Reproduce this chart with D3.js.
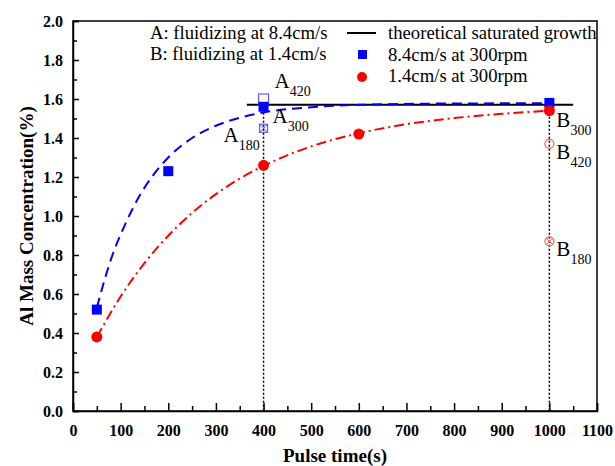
<!DOCTYPE html>
<html>
<head>
<meta charset="utf-8">
<script src="https://cdn.jsdelivr.net/npm/d3@7"></script>
<style>
  body { margin: 0; background: #fff; }
  svg text { font-family: "Liberation Serif", "Times New Roman", serif; }
</style>
</head>
<body>
<svg id="chart"></svg>
<script>
// Size of the picture
const width = 615;
const height = 466;
const margin = { top: 21, right: 18, bottom: 55, left: 73 };

// Measured points
const fastTime = [50, 200, 400, 1000];
const fastConc = [0.52, 1.23, 1.56, 1.58];
const slowTime = [50, 400, 600, 1000];
const slowConc = [0.38, 1.26, 1.42, 1.54];

// Fitted curves
const fastFitTime = [50, 80, 110, 140, 170, 200, 250, 300, 350, 400, 500, 600, 800, 1000];
const fastFitConc = [0.53, 0.78, 0.96, 1.105, 1.215, 1.30, 1.40, 1.463, 1.504, 1.531, 1.558, 1.57, 1.577, 1.578];
const slowFitTime = [50, 100, 150, 200, 250, 300, 350, 400, 500, 600, 700, 800, 900, 1000];
const slowFitConc = [0.38, 0.587, 0.758, 0.899, 1.016, 1.112, 1.192, 1.257, 1.357, 1.424, 1.471, 1.502, 1.524, 1.54];

// Extra samples at 400 s (A) and 1000 s (B)
const extraTime = [400, 400, 1000, 1000];
const extraConc = [1.60, 1.45, 1.37, 0.87];
const extraKind = ['openSquare', 'crossSquare', 'openCircle', 'crossCircle'];

// Theoretical saturated level
const satLevel = 1.57;
const satRange = [365, 1050];
const markTimes = [400, 1000];

// Annotations
const annotTime = [400, 400, 400, 1000, 1000, 1000];
const annotConc = [1.60, 1.56, 1.45, 1.54, 1.37, 0.87];
const annotMain = ['A', 'A', 'A', 'B', 'B', 'B'];
const annotSub = ['420', '300', '180', '300', '420', '180'];

const xTicks = d3.range(0, 1101, 100);
const yTicks = d3.range(0, 2.01, 0.2);

const svg = d3.select('#chart')
  .attr('width', width)
  .attr('height', height);

const x = d3.scaleLinear().domain([0, 1100]).range([margin.left, width - margin.right]);
const y = d3.scaleLinear().domain([0, 2]).range([height - margin.bottom, margin.top]);

// frame
svg.append('rect')
  .attr('x', x(0)).attr('y', y(2))
  .attr('width', x(1100) - x(0)).attr('height', y(0) - y(2))
  .attr('fill', 'none').attr('stroke', '#000').attr('stroke-width', 1.5);

// x axis, ticks pointing inwards
svg.append('g')
  .attr('transform', `translate(0,${y(0)})`)
  .call(d3.axisBottom(x).tickValues(xTicks).tickSize(-8).tickPadding(14).tickFormat(d3.format('d')));
svg.append('g')
  .attr('transform', `translate(0,${y(0)})`)
  .call(d3.axisBottom(x).tickValues(d3.range(50, 1100, 100)).tickSize(-5).tickFormat(''))
  .call(g => g.select('.domain').remove());

svg.append('g')
  .attr('transform', `translate(${x(0)},0)`)
  .call(d3.axisLeft(y).tickValues(yTicks).tickSize(-6).tickPadding(10).tickFormat(d3.format('.1f')));
svg.append('g')
  .attr('transform', `translate(${x(0)},0)`)
  .call(d3.axisLeft(y).tickValues(d3.range(0.1, 2, 0.2)).tickSize(-4).tickFormat(''))
  .call(g => g.select('.domain').remove());

svg.selectAll('.domain').attr('stroke-width', 1.5);
svg.selectAll('.tick line').attr('stroke-width', 1.5);
svg.selectAll('.tick text')
  .style('font-family', '"Liberation Serif", serif')
  .style('font-weight', 'bold')
  .style('font-size', '16px')
  .attr('fill', '#000');

// axis titles
svg.append('text')
  .attr('x', (x(0) + x(1100)) / 2).attr('y', 462)
  .attr('text-anchor', 'middle')
  .attr('font-weight', 'bold').attr('font-size', 19)
  .text('Pulse time(s)');
svg.append('text')
  .attr('transform', `translate(33,${(y(0) + y(2)) / 2}) rotate(-90)`)
  .attr('text-anchor', 'middle')
  .attr('font-weight', 'bold').attr('font-size', 19)
  .text('Al Mass Concentration(%)');

// vertical dotted guides
svg.selectAll('.guide')
  .data(markTimes)
  .enter()
  .append('line')
  .attr('x1', d => x(d)).attr('x2', d => x(d))
  .attr('y1', y(satLevel)).attr('y2', y(0))
  .attr('stroke', '#000').attr('stroke-width', 1.5)
  .attr('stroke-dasharray', '2,2');

// saturated growth line
svg.append('line')
  .attr('x1', x(satRange[0])).attr('x2', x(satRange[1]))
  .attr('y1', y(satLevel)).attr('y2', y(satLevel))
  .attr('stroke', '#000').attr('stroke-width', 2);

// fitted curves
const line = d3.line().x(d => x(d[0])).y(d => y(d[1])).curve(d3.curveMonotoneX);
svg.append('path')
  .attr('d', line(d3.zip(fastFitTime, fastFitConc)))
  .attr('fill', 'none').attr('stroke', '#0000ff').attr('stroke-width', 2)
  .attr('stroke-dasharray', '10,6');
svg.append('path')
  .attr('d', line(d3.zip(slowFitTime, slowFitConc)))
  .attr('fill', 'none').attr('stroke', '#ff0000').attr('stroke-width', 2)
  .attr('stroke-dasharray', '10,4,2,4');

// extra open / crossed markers
const extras = d3.zip(extraTime, extraConc, extraKind);
extras.forEach(([t, c, k]) => {
  const cx = x(t), cy = y(c);
  const g = svg.append('g');
  if (k === 'openSquare') {
    g.append('rect').attr('x', cx - 5).attr('y', cy - 5).attr('width', 10).attr('height', 10)
      .attr('fill', 'none').attr('stroke', '#5a5aff').attr('stroke-width', 1.2);
  } else if (k === 'crossSquare') {
    g.append('rect').attr('x', cx - 4).attr('y', cy - 4).attr('width', 8).attr('height', 8)
      .attr('fill', 'none').attr('stroke', '#5a5aff').attr('stroke-width', 1.2);
    g.append('path').attr('d', `M${cx - 4},${cy - 4}L${cx + 4},${cy + 4}M${cx + 4},${cy - 4}L${cx - 4},${cy + 4}`)
      .attr('stroke', '#5a5aff').attr('stroke-width', 1);
  } else if (k === 'openCircle') {
    g.append('circle').attr('cx', cx).attr('cy', cy).attr('r', 4.5)
      .attr('fill', 'none').attr('stroke', '#ff5a5a').attr('stroke-width', 1.2);
  } else {
    g.append('circle').attr('cx', cx).attr('cy', cy).attr('r', 4.5)
      .attr('fill', 'none').attr('stroke', '#ff5a5a').attr('stroke-width', 1.2);
    g.append('path').attr('d', `M${cx - 3.2},${cy - 3.2}L${cx + 3.2},${cy + 3.2}M${cx + 3.2},${cy - 3.2}L${cx - 3.2},${cy + 3.2}`)
      .attr('stroke', '#ff5a5a').attr('stroke-width', 1);
  }
});

// measured points
svg.selectAll('.fast')
  .data(d3.zip(fastTime, fastConc))
  .enter()
  .append('rect')
  .attr('x', d => x(d[0]) - 5).attr('y', d => y(d[1]) - 5)
  .attr('width', 10).attr('height', 10)
  .attr('fill', '#0000ff');
svg.selectAll('.slow')
  .data(d3.zip(slowTime, slowConc))
  .enter()
  .append('circle')
  .attr('cx', d => x(d[0])).attr('cy', d => y(d[1]))
  .attr('r', 5.5)
  .attr('fill', '#ff0000');

// A / B labels with subscripts
const labelOffset = [[11, -11], [9, 16], [-40, 14], [7, 16], [7, 15], [7, 15]];
d3.range(annotMain.length).forEach(i => {
  const t = svg.append('text')
    .attr('x', x(annotTime[i]) + labelOffset[i][0])
    .attr('y', y(annotConc[i]) + labelOffset[i][1])
    .attr('font-size', 21);
  t.append('tspan').text(annotMain[i]);
  t.append('tspan').attr('dy', 8).attr('font-size', 14).text(annotSub[i]);
});

// legend
const legendLeft = ['A: fluidizing at 8.4cm/s', 'B: fluidizing at 1.4cm/s'];
svg.selectAll('.legL')
  .data(legendLeft)
  .enter()
  .append('text')
  .attr('x', 150).attr('y', (d, i) => 39 + i * 21)
  .attr('font-size', 18.7)
  .text(d => d);

const legendRight = ['theoretical saturated growth', '8.4cm/s at 300rpm', '1.4cm/s at 300rpm'];
svg.selectAll('.legR')
  .data(legendRight)
  .enter()
  .append('text')
  .attr('x', 388).attr('y', (d, i) => 39 + i * 21.5)
  .attr('font-size', 18.7)
  .text(d => d);
svg.append('line').attr('x1', 347).attr('x2', 376).attr('y1', 33).attr('y2', 33)
  .attr('stroke', '#000').attr('stroke-width', 2);
svg.append('rect').attr('x', 358).attr('y', 50).attr('width', 9).attr('height', 9).attr('fill', '#0000ff');
svg.append('circle').attr('cx', 362).attr('cy', 77).attr('r', 5).attr('fill', '#ff0000');
</script>
</body>
</html>
